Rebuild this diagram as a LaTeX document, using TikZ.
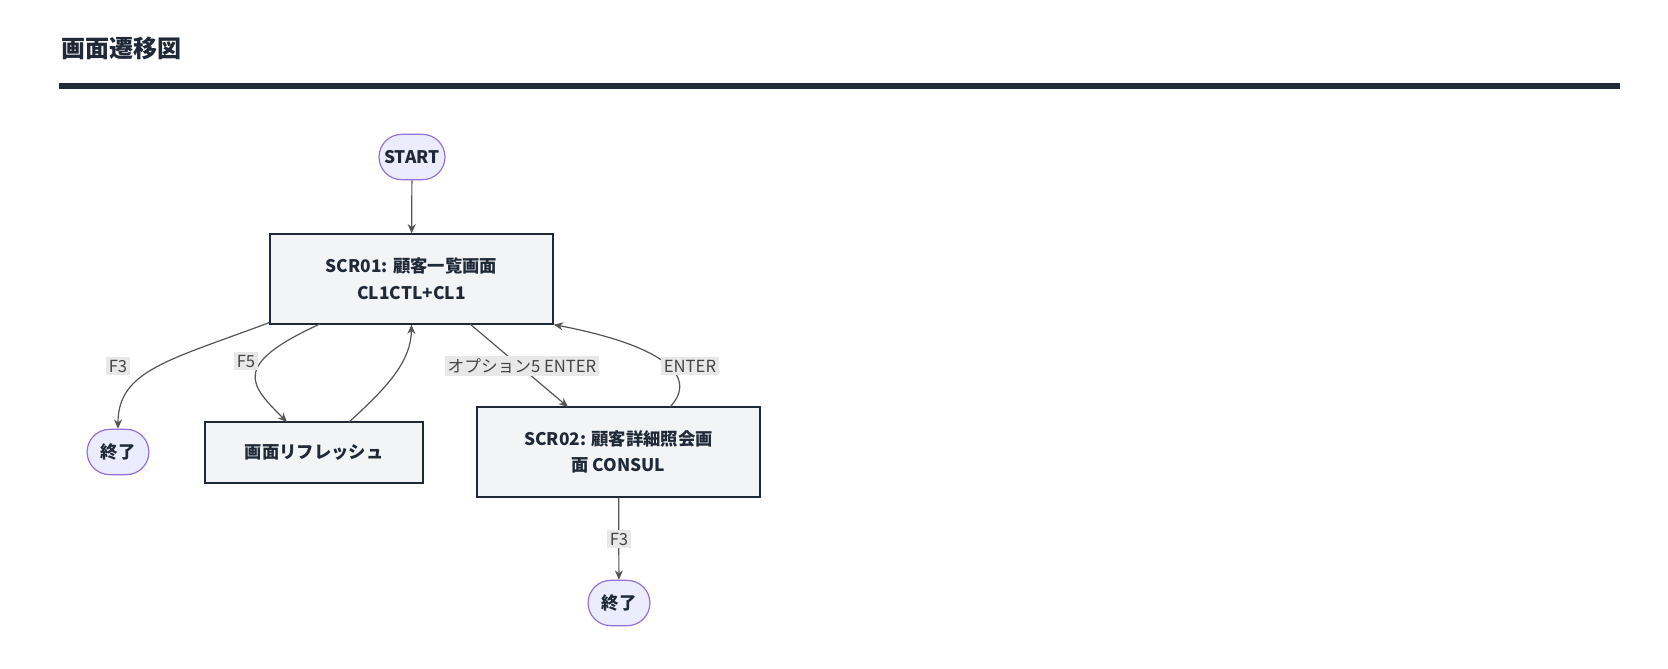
\documentclass[tikz,border=0pt]{standalone}
\usepackage{fontspec}
\setmainfont{Noto Sans CJK JP}
\usetikzlibrary{arrows.meta,shapes.misc}
\definecolor{ink}{HTML}{1F2937}
\definecolor{boxfill}{HTML}{F3F4F6}
\definecolor{termfill}{HTML}{ECECFF}
\definecolor{termline}{HTML}{9370DB}
\definecolor{edge}{HTML}{555555}
\definecolor{lblbg}{HTML}{E8E8E8}
\tikzset{
  screen/.style={draw=ink,line width=1.4pt,fill=boxfill,font=\fontsize{13}{20}\selectfont\bfseries,text=ink,align=center,inner sep=0pt},
  term/.style={draw=termline,line width=0.9pt,fill=termfill,rounded rectangle,font=\fontsize{13}{16}\selectfont\bfseries,text=ink,minimum height=34pt,inner xsep=9pt},
  conn/.style={draw=edge,line width=0.9pt,-{Stealth[length=7pt,width=6pt]}},
  lbl/.style={fill=lblbg,text=edge!80!black,font=\fontsize{12.5}{14}\selectfont,inner sep=2pt}
}
\begin{document}
\begin{tikzpicture}[x=0.75pt,y=-0.75pt]
\useasboundingbox (0,0) rectangle (1668,668);
\node[anchor=west,font=\fontsize{18}{20}\selectfont\bfseries,text=ink] (title) at (57,48) {画面遷移図};
\draw[ink,line width=3.8pt] (59,86) -- (1620,86);
\node[term,minimum width=90pt*0.75/0.75*0.75] (start) at (412,157) {START};
\node[screen,minimum width=212pt,minimum height=67pt] (s1) at (411.5,279) {SCR01: 顧客一覧画面\\CL1CTL+CL1};
\node[term] (end1) at (118,452) {終了};
\node[screen,minimum width=163pt,minimum height=46pt] (ref) at (314,452.5) {画面リフレッシュ};
\node[screen,minimum width=212pt,minimum height=67pt] (s2) at (618.5,452) {SCR02: 顧客詳細照会画\\面 CONSUL};
\node[term] (end2) at (619,603) {終了};
\draw[conn] (start) -- (s1);
\draw[conn] (s1.south west) ++(0,-2) coordinate (a1) .. controls (170,360) and (118,370) .. (end1.north);
\draw[conn] (320,324) coordinate (a2) .. controls (230,365) and (250,385) .. (287,422) coordinate (ra);
\draw[conn] (349,422) coordinate (rb) .. controls (390,385) and (411,360) .. (s1.south);
\draw[conn] (470,324) coordinate (a3) -- (568,407) coordinate (b3);
\draw[conn] (670,407) coordinate (a4) .. controls (700,375) and (660,345) .. (s1.south east);
\draw[conn] (s2) -- (end2);
\node[lbl] (l1) at (118,366) {F3};
\node[lbl] (l2) at (246,361) {F5};
\node[lbl] (l3) at (522,366) {オプション5 ENTER};
\node[lbl] (l4) at (690,366) {ENTER};
\node[lbl] (l5) at (619,539) {F3};
\end{tikzpicture}
\end{document}
